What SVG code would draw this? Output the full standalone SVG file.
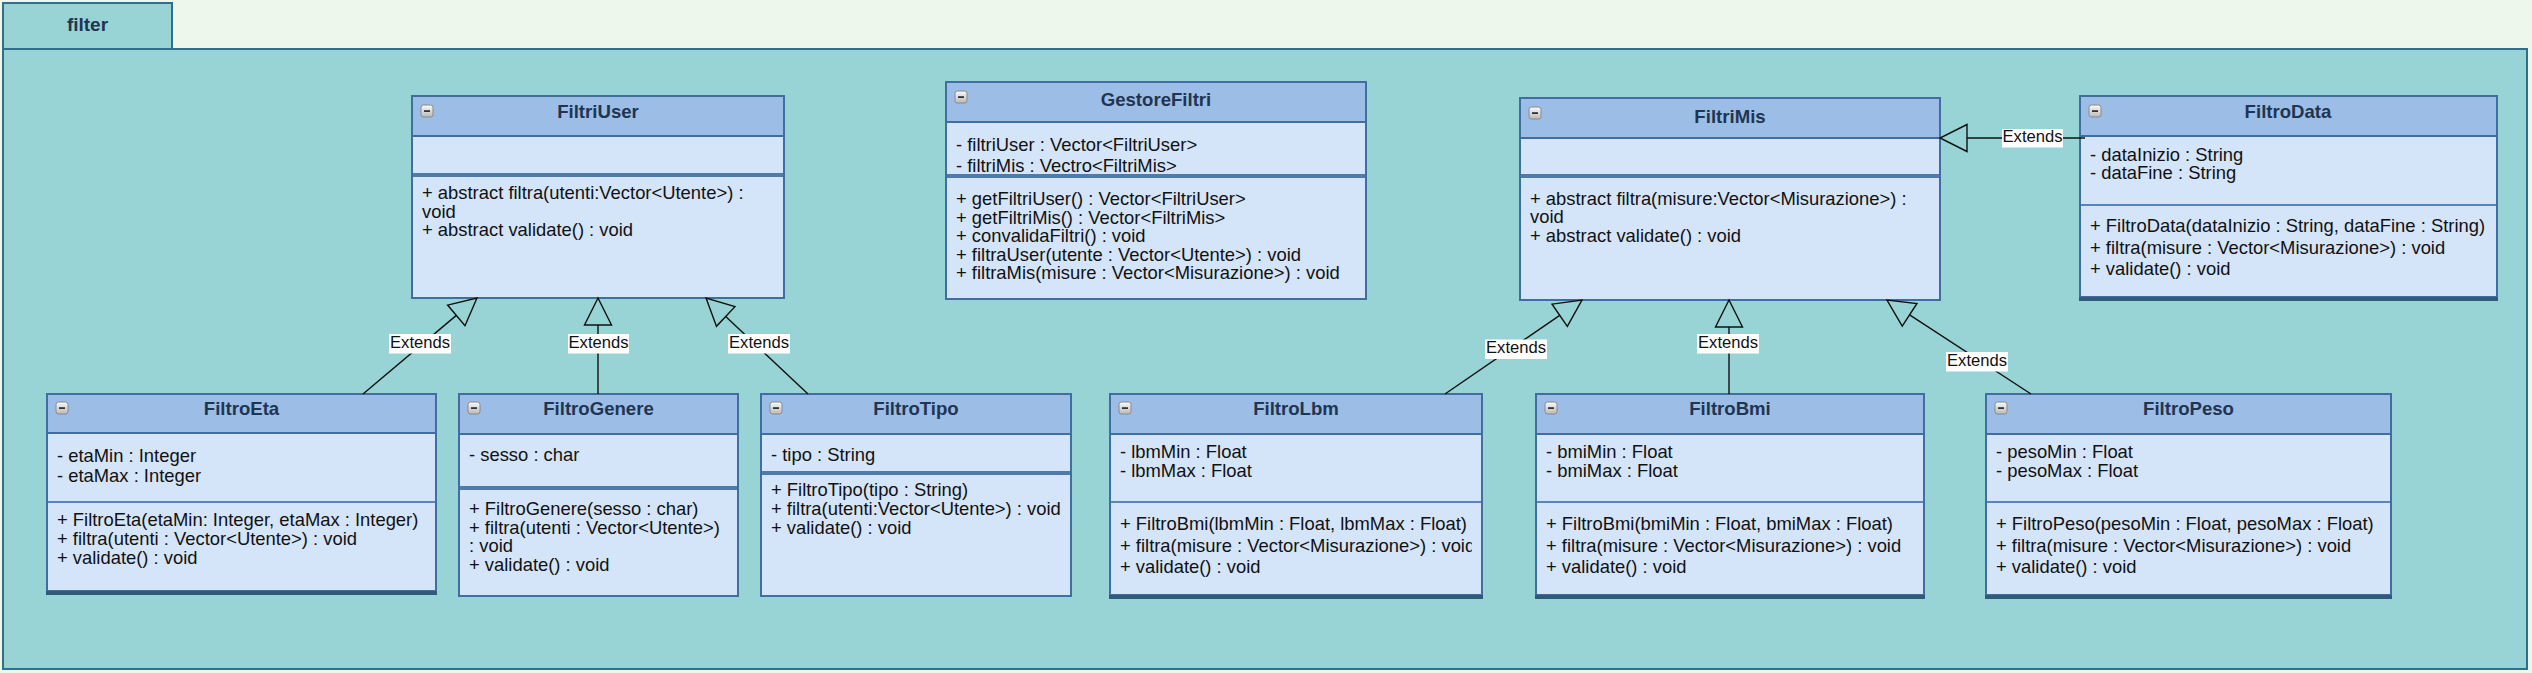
<svg xmlns="http://www.w3.org/2000/svg" width="2532" height="673" viewBox="0 0 2532 673">
<defs>
<style>
.bg{fill:#eef7ec}
.pkg{fill:#98d4d5;stroke:#2f6f8c;stroke-width:2}
.box{fill:#d4e5fa;stroke:#416ea0;stroke-width:2}
.hdr{fill:#9bbde6;stroke:#416ea0;stroke-width:2}
.sep{stroke:#5a85b8;stroke-width:2}
.dsep{fill:#4f7aab}
.bot{fill:#2f5a7a}
.t{font-family:"Liberation Sans",Arial,Helvetica,sans-serif;font-size:18.4px;fill:#111}
.ttl{font-family:"Liberation Sans",Arial,Helvetica,sans-serif;font-size:18.6px;font-weight:bold;fill:#1f3552;text-anchor:middle}
.pk{font-family:"Liberation Sans",Arial,Helvetica,sans-serif;font-size:19px;font-weight:bold;fill:#1f3552;text-anchor:middle}
.conn{stroke:#111;stroke-width:1.4;fill:none;marker-end:url(#tri)}
.lb{fill:#ffffff}
.lt{font-family:"Liberation Sans",Arial,Helvetica,sans-serif;font-size:16.6px;fill:#111;text-anchor:middle}
</style>
<linearGradient id="ig" x1="0" y1="0" x2="0" y2="1">
<stop offset="0" stop-color="#fafafa"/>
<stop offset="1" stop-color="#b9b9b9"/>
</linearGradient>
<g id="minus">
<rect x="0" y="0" width="12" height="12" rx="2.5" fill="url(#ig)" stroke="#8a8a8a" stroke-width="1"/>
<rect x="3" y="5.2" width="6" height="1.8" fill="#333"/>
</g>
<marker id="tri" markerUnits="userSpaceOnUse" markerWidth="34" markerHeight="34" viewBox="-3 -17 34 34" refX="0" refY="0" orient="auto" overflow="visible">
<path d="M0,-13.5 L27,0 L0,13.5 Z" fill="none" stroke="#111" stroke-width="1.4" stroke-linejoin="miter"/>
</marker>
<clipPath id="clipLbm"><rect x="1110" y="394" width="362" height="205"/></clipPath>
</defs>

<rect class="bg" x="0" y="0" width="2532" height="673"/>

<g id="package-filter">
<rect class="pkg" x="3" y="3" width="169" height="46"/>
<rect class="pkg" x="3" y="49" width="2524" height="620"/>
<text class="pk" x="87.5" y="30.5">filter</text>
</g>

<g id="FiltriUser">
<rect class="box" x="412" y="96" width="372" height="202"/>
<rect class="hdr" x="412" y="96" width="372" height="40"/>
<rect class="dsep" x="413" y="173" width="370" height="4"/>
<use href="#minus" x="421" y="105"/>
<text class="ttl" x="598" y="117.5">FiltriUser</text>
<text class="t" x="422" y="199">+ abstract filtra(utenti:Vector&lt;Utente&gt;) :</text>
<text class="t" x="422" y="217.5">void</text>
<text class="t" x="422" y="236">+ abstract validate() : void</text>
</g>

<g id="GestoreFiltri">
<rect class="box" x="946" y="82" width="420" height="217"/>
<rect class="hdr" x="946" y="82" width="420" height="40"/>
<rect class="dsep" x="947" y="174" width="418" height="4"/>
<use href="#minus" x="955" y="91"/>
<text class="ttl" x="1156" y="105.5">GestoreFiltri</text>
<text class="t" x="956" y="151">- filtriUser : Vector&lt;FiltriUser&gt;</text>
<text class="t" x="956" y="172">- filtriMis : Vectro&lt;FiltriMis&gt;</text>
<text class="t" x="956" y="205">+ getFiltriUser() : Vector&lt;FiltriUser&gt;</text>
<text class="t" x="956" y="223.5">+ getFiltriMis() : Vector&lt;FiltriMis&gt;</text>
<text class="t" x="956" y="242">+ convalidaFiltri() : void</text>
<text class="t" x="956" y="260.5">+ filtraUser(utente : Vector&lt;Utente&gt;) : void</text>
<text class="t" x="956" y="279">+ filtraMis(misure : Vector&lt;Misurazione&gt;) : void</text>
</g>

<g id="FiltriMis">
<rect class="box" x="1520" y="98" width="420" height="202"/>
<rect class="hdr" x="1520" y="98" width="420" height="40"/>
<rect class="dsep" x="1521" y="174" width="418" height="4"/>
<use href="#minus" x="1529" y="107"/>
<text class="ttl" x="1730" y="123">FiltriMis</text>
<text class="t" x="1530" y="205">+ abstract filtra(misure:Vector&lt;Misurazione&gt;) :</text>
<text class="t" x="1530" y="223">void</text>
<text class="t" x="1530" y="241.5">+ abstract validate() : void</text>
</g>

<g id="FiltroData">
<rect class="box" x="2080" y="96" width="417" height="201"/>
<rect class="hdr" x="2080" y="96" width="417" height="40"/>
<line class="sep" x1="2081" y1="205" x2="2496" y2="205"/>
<rect class="bot" x="2079" y="297" width="419" height="4"/>
<use href="#minus" x="2089" y="105"/>
<text class="ttl" x="2288" y="117.5">FiltroData</text>
<text class="t" x="2090" y="161">- dataInizio : String</text>
<text class="t" x="2090" y="179">- dataFine : String</text>
<text class="t" x="2090" y="232">+ FiltroData(dataInizio : String, dataFine : String)</text>
<text class="t" x="2090" y="254">+ filtra(misure : Vector&lt;Misurazione&gt;) : void</text>
<text class="t" x="2090" y="275">+ validate() : void</text>
</g>

<g id="FiltroEta">
<rect class="box" x="47" y="394" width="389" height="197"/>
<rect class="hdr" x="47" y="394" width="389" height="39"/>
<line class="sep" x1="48" y1="502" x2="435" y2="502"/>
<rect class="bot" x="46" y="591" width="391" height="4"/>
<use href="#minus" x="56" y="402"/>
<text class="ttl" x="241.5" y="415">FiltroEta</text>
<text class="t" x="57" y="461.5">- etaMin : Integer</text>
<text class="t" x="57" y="482">- etaMax : Integer</text>
<text class="t" x="57" y="526">+ FiltroEta(etaMin: Integer, etaMax : Integer)</text>
<text class="t" x="57" y="545">+ filtra(utenti : Vector&lt;Utente&gt;) : void</text>
<text class="t" x="57" y="564">+ validate() : void</text>
</g>

<g id="FiltroGenere">
<rect class="box" x="459" y="394" width="279" height="202"/>
<rect class="hdr" x="459" y="394" width="279" height="40"/>
<rect class="dsep" x="460" y="486" width="277" height="4"/>
<use href="#minus" x="468" y="402"/>
<text class="ttl" x="598.5" y="415">FiltroGenere</text>
<text class="t" x="469" y="461">- sesso : char</text>
<text class="t" x="469" y="515">+ FiltroGenere(sesso : char)</text>
<text class="t" x="469" y="534">+ filtra(utenti : Vector&lt;Utente&gt;)</text>
<text class="t" x="469" y="552">: void</text>
<text class="t" x="469" y="571">+ validate() : void</text>
</g>

<g id="FiltroTipo">
<rect class="box" x="761" y="394" width="310" height="202"/>
<rect class="hdr" x="761" y="394" width="310" height="40"/>
<rect class="dsep" x="762" y="471" width="308" height="4"/>
<use href="#minus" x="770" y="402"/>
<text class="ttl" x="916" y="415">FiltroTipo</text>
<text class="t" x="771" y="461">- tipo : String</text>
<text class="t" x="771" y="496">+ FiltroTipo(tipo : String)</text>
<text class="t" x="771" y="515">+ filtra(utenti:Vector&lt;Utente&gt;) : void</text>
<text class="t" x="771" y="534">+ validate() : void</text>
</g>

<g id="FiltroLbm">
<rect class="box" x="1110" y="394" width="372" height="201"/>
<rect class="hdr" x="1110" y="394" width="372" height="40"/>
<line class="sep" x1="1111" y1="502" x2="1481" y2="502"/>
<rect class="bot" x="1109" y="595" width="374" height="4"/>
<use href="#minus" x="1119" y="402"/>
<text class="ttl" x="1296" y="415">FiltroLbm</text>
<text class="t" x="1120" y="458">- lbmMin : Float</text>
<text class="t" x="1120" y="477">- lbmMax : Float</text>
<g clip-path="url(#clipLbm)">
<text class="t" x="1120" y="530">+ FiltroBmi(lbmMin : Float, lbmMax : Float)</text>
<text class="t" x="1120" y="551.5">+ filtra(misure : Vector&lt;Misurazione&gt;) : void</text>
<text class="t" x="1120" y="573">+ validate() : void</text>
</g>
</g>

<g id="FiltroBmi">
<rect class="box" x="1536" y="394" width="388" height="201"/>
<rect class="hdr" x="1536" y="394" width="388" height="40"/>
<line class="sep" x1="1537" y1="502" x2="1923" y2="502"/>
<rect class="bot" x="1535" y="595" width="390" height="4"/>
<use href="#minus" x="1545" y="402"/>
<text class="ttl" x="1730" y="415">FiltroBmi</text>
<text class="t" x="1546" y="458">- bmiMin : Float</text>
<text class="t" x="1546" y="477">- bmiMax : Float</text>
<text class="t" x="1546" y="530">+ FiltroBmi(bmiMin : Float, bmiMax : Float)</text>
<text class="t" x="1546" y="551.5">+ filtra(misure : Vector&lt;Misurazione&gt;) : void</text>
<text class="t" x="1546" y="573">+ validate() : void</text>
</g>

<g id="FiltroPeso">
<rect class="box" x="1986" y="394" width="405" height="201"/>
<rect class="hdr" x="1986" y="394" width="405" height="40"/>
<line class="sep" x1="1987" y1="502" x2="2390" y2="502"/>
<rect class="bot" x="1985" y="595" width="407" height="4"/>
<use href="#minus" x="1995" y="402"/>
<text class="ttl" x="2188.5" y="415">FiltroPeso</text>
<text class="t" x="1996" y="458">- pesoMin : Float</text>
<text class="t" x="1996" y="477">- pesoMax : Float</text>
<text class="t" x="1996" y="530">+ FiltroPeso(pesoMin : Float, pesoMax : Float)</text>
<text class="t" x="1996" y="551.5">+ filtra(misure : Vector&lt;Misurazione&gt;) : void</text>
<text class="t" x="1996" y="573">+ validate() : void</text>
</g>

<g id="connectors">
<line class="conn" x1="363" y1="394" x2="456.3" y2="315.4"/>
<line class="conn" x1="598" y1="394" x2="598" y2="325"/>
<line class="conn" x1="808" y1="394" x2="725.7" y2="316.5"/>
<line class="conn" x1="1445" y1="394" x2="1559.7" y2="315.3"/>
<line class="conn" x1="1729" y1="394" x2="1729" y2="327"/>
<line class="conn" x1="2031" y1="394" x2="1909.6" y2="314.8"/>
<line class="conn" x1="2085" y1="138" x2="1967" y2="138"/>
<rect class="lb" x="389" y="334" width="62" height="19.5"/>
<text class="lt" x="420" y="347.5">Extends</text>
<rect class="lb" x="568" y="334" width="61" height="19.5"/>
<text class="lt" x="598.5" y="347.5">Extends</text>
<rect class="lb" x="728" y="334" width="62" height="19.5"/>
<text class="lt" x="759" y="347.5">Extends</text>
<rect class="lb" x="1485" y="339.5" width="62" height="19.5"/>
<text class="lt" x="1516" y="353">Extends</text>
<rect class="lb" x="1697" y="334" width="62" height="19.5"/>
<text class="lt" x="1728" y="347.5">Extends</text>
<rect class="lb" x="1946" y="352" width="62" height="19.5"/>
<text class="lt" x="1977" y="365.5">Extends</text>
<rect class="lb" x="2002" y="129" width="61" height="18.5"/>
<text class="lt" x="2032.5" y="142">Extends</text>
</g>
</svg>
